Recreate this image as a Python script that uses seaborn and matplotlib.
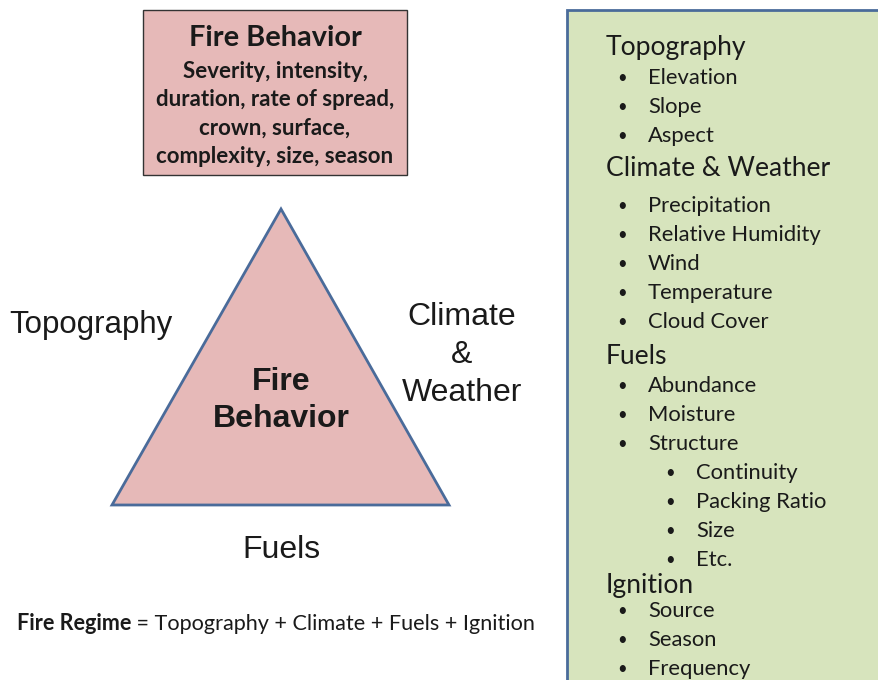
import matplotlib
matplotlib.use("Agg")
import matplotlib.pyplot as plt
from matplotlib.patches import Polygon, Rectangle
import seaborn as sns

# -----------------------
# content
# -----------------------
box_title = "Fire Behavior"
box_lines = ["Severity, intensity,", "duration, rate of spread,",
             "crown, surface,", "complexity, size, season"]

triangle_center = ["Fire", "Behavior"]
left_label = "Topography"
right_label = ["Climate", "&", "Weather"]
bottom_label = "Fuels"

formula_bold = "Fire Regime"
formula_rest = " = Topography + Climate + Fuels + Ignition"

section_titles = ["Topography", "Climate & Weather", "Fuels", "Ignition"]
topography_items = ["Elevation", "Slope", "Aspect"]
climate_items = ["Precipitation", "Relative Humidity", "Wind", "Temperature", "Cloud Cover"]
fuels_items = ["Abundance", "Moisture", "Structure"]
structure_items = ["Continuity", "Packing Ratio", "Size", "Etc."]
ignition_items = ["Source", "Season", "Frequency"]

# -----------------------
# style
# -----------------------
sns.set_theme(style="white")
plt.rcParams['font.family'] = ['Lato', 'DejaVu Sans']

PINK = "#e6b9b8"
GREEN = "#d7e4bd"
BLUE = "#4a6b9a"
TXT = "#1a1a1a"
ARIAL = ['Liberation Sans', 'DejaVu Sans']
DY = 2  # nudge text down a bit so it sits like the original

fig = plt.figure(figsize=(8.79, 6.80), dpi=100)
ax = fig.add_axes([0, 0, 1, 1])
ax.set_xlim(0, 879)
ax.set_ylim(680, 0)
ax.axis("off")

# top box
ax.add_patch(Rectangle((143, 10), 264, 165, facecolor=PINK, edgecolor="#333333", lw=1))
ax.text(275, 36 + DY, box_title, ha="center", va="center", fontsize=20.8, fontweight="bold", color=TXT)
for i, line in enumerate(box_lines):
    ax.text(275, 69 + DY + i * 28.5, line, ha="center", va="center", fontsize=16,
            fontweight="bold", color=TXT)

# triangle
tri = Polygon([(281, 209), (112, 505), (449, 505)], closed=True,
              facecolor=PINK, edgecolor=BLUE, lw=2)
ax.add_patch(tri)
for i, w in enumerate(triangle_center):
    ax.text(281, 380 + DY + i * 37, w, ha="center", va="center", fontsize=23,
            fontweight="bold", family=ARIAL, color=TXT)
ax.text(9, 323 + DY, left_label, ha="left", va="center", fontsize=22.5, family=ARIAL, color=TXT)
for i, w in enumerate(right_label):
    ax.text(462, 315 + DY + i * 38, w, ha="center", va="center", fontsize=23, family=ARIAL, color=TXT)
ax.text(281, 548 + DY, bottom_label, ha="center", va="center", fontsize=23, family=ARIAL, color=TXT)

# formula
t = ax.text(17, 622 + DY, formula_bold, ha="left", va="center", fontsize=15.6, fontweight="bold", color=TXT)
ax.annotate(formula_rest, xy=(1, 0.5), xycoords=t, ha="left", va="center",
            fontsize=15.6, color=TXT)

# right panel
ax.add_patch(Rectangle((567, 10), 330, 700, facecolor=GREEN, edgecolor=BLUE, lw=2, clip_on=True))

header_y = [46, 166, 354, 583]
first_item_gap = [30, 38, 30, 26]
groups = [topography_items, climate_items, fuels_items, ignition_items]
step = 29
for title, y0, gap, items in zip(section_titles, header_y, first_item_gap, groups):
    ax.text(606, y0 + DY, title, ha="left", va="center", fontsize=19.1, color=TXT)
    y = y0 + gap + DY
    for it in items:
        ax.text(622, y, "\u2022", ha="center", va="center", fontsize=12, color=TXT)
        ax.text(648, y, it, ha="left", va="center", fontsize=15.8, color=TXT)
        y += step
    if items is fuels_items:
        for it in structure_items:
            ax.text(670, y, "\u2022", ha="center", va="center", fontsize=12, color=TXT)
            ax.text(696, y, it, ha="left", va="center", fontsize=15.8, color=TXT)
            y += step

fig.savefig("out.png", dpi=100)
